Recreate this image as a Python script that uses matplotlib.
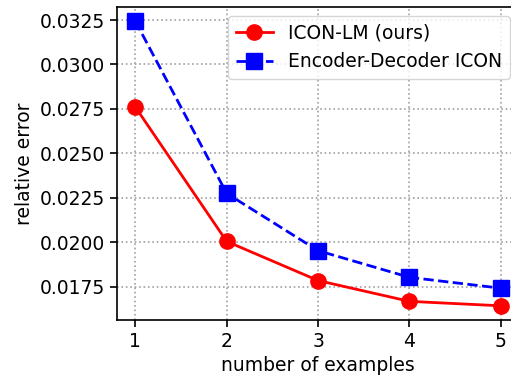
import matplotlib
matplotlib.use("Agg")
import matplotlib.pyplot as plt

n_examples = [1, 2, 3, 4, 5]
icon_lm = [0.02761, 0.02005, 0.01785, 0.01668, 0.01643]
enc_dec = [0.03244, 0.02275, 0.01953, 0.01803, 0.01742]

fig = plt.figure(figsize=(5.11, 3.81), dpi=100)
ax = fig.add_axes([0.229, 0.160, 0.787, 0.822])

ax.plot(n_examples, icon_lm, 'r-o', lw=2, markersize=11, label='ICON-LM (ours)')
ax.plot(n_examples, enc_dec, 'b--s', lw=2, markersize=11, label='Encoder-Decoder ICON')

ax.set_xticks(n_examples)
ax.set_yticks([0.0175, 0.0200, 0.0225, 0.0250, 0.0275, 0.0300, 0.0325])
ax.set_xlabel('number of examples', fontsize=13.5)
ax.set_ylabel('relative error', fontsize=13.5)
ax.tick_params(labelsize=13.5, length=5, width=1.2)
for s in ax.spines.values():
    s.set_linewidth(1.2)
ax.grid(True, linestyle=':', color='#a0a0a0', lw=1.2)
ax.legend(fontsize=13.5, loc='upper right')

fig.savefig('out.png', dpi=100)
